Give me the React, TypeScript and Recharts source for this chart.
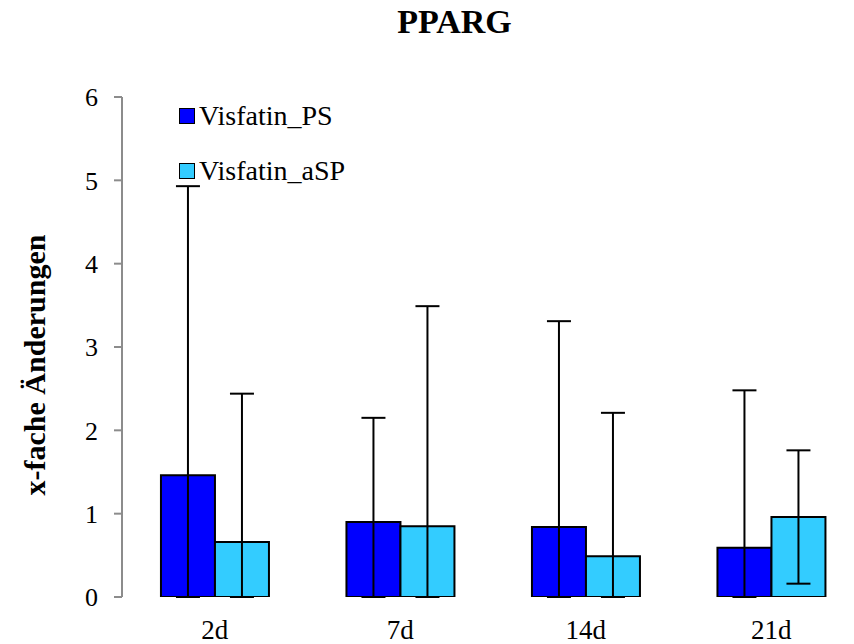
import React from 'react';
import { BarChart, Bar, XAxis, YAxis, ErrorBar } from 'recharts';

const days = ['2d', '7d', '14d', '21d'];
const psValues = [1.46, 0.9, 0.84, 0.59];
const psErrors = [3.47, 1.25, 2.47, 1.89];
const aspValues = [0.66, 0.85, 0.49, 0.96];
const aspErrors = [1.78, 2.64, 1.72, 0.8];
const yTicks = [0, 1, 2, 3, 4, 5, 6];

const PS_COLOR = '#0000FF';
const ASP_COLOR = '#33CCFF';
const FONT = '"Liberation Serif", "Times New Roman", serif';

// lower whisker stops at the axis, like the original
const data = days.map((day, i) => ({
  day,
  ps: psValues[i],
  psErr: [Math.min(psErrors[i], psValues[i]), psErrors[i]],
  asp: aspValues[i],
  aspErr: [Math.min(aspErrors[i], aspValues[i]), aspErrors[i]],
}));

const legendItems = [
  { name: 'Visfatin_PS', color: PS_COLOR },
  { name: 'Visfatin_aSP', color: ASP_COLOR },
];

const LegendBox = () => (
  <div
    style={{
      position: 'absolute',
      left: 179,
      top: 88,
      fontFamily: FONT,
      fontSize: 28,
      color: '#000',
    }}
  >
    {legendItems.map((item) => (
      <div key={item.name} style={{ display: 'flex', alignItems: 'center', height: 55 }}>
        <span
          style={{
            width: 14,
            height: 14,
            background: item.color,
            border: '1.5px solid #000',
            marginRight: 4,
          }}
        />
        <span>{item.name}</span>
      </div>
    ))}
  </div>
);

export default function App() {
  return (
    <div style={{ position: 'absolute', left: 0, top: 0, width: 854, height: 644, overflow: 'hidden', background: '#fff' }}>
      <BarChart
        width={870}
        height={644}
        data={data}
        margin={{ top: 97, right: 6, left: 50, bottom: 0 }}
        barCategoryGap="21%"
        barGap={0}
        style={{ position: 'absolute', left: 0, top: 0 }}
      >
        <XAxis
          xAxisId="edges"
          type="number"
          domain={[0, 4]}
          ticks={[0, 1, 2, 3, 4]}
          height={0}
          stroke="#8c8c8c"
          strokeWidth={2}
          tickSize={8}
          tickFormatter={() => ''}
        />
        <XAxis
          dataKey="day"
          height={47}
          axisLine={false}
          tickLine={false}
          tickSize={0}
          tickMargin={23}
          tick={{ fill: '#000', fontFamily: FONT, fontSize: 27 }}
        />
        <YAxis
          width={72}
          domain={[0, 6]}
          ticks={yTicks}
          allowDataOverflow
          stroke="#8c8c8c"
          strokeWidth={2}
          tickSize={8}
          tickMargin={16}
          tick={{ fill: '#000', fontFamily: FONT, fontSize: 26 }}
        />
        <Bar dataKey="ps" name="Visfatin_PS" fill={PS_COLOR} stroke="#000" strokeWidth={2} isAnimationActive={false}>
          <ErrorBar dataKey="psErr" width={12} stroke="#000" strokeWidth={2} direction="y" isAnimationActive={false} />
        </Bar>
        <Bar dataKey="asp" name="Visfatin_aSP" fill={ASP_COLOR} stroke="#000" strokeWidth={2} isAnimationActive={false}>
          <ErrorBar dataKey="aspErr" width={12} stroke="#000" strokeWidth={2} direction="y" isAnimationActive={false} />
        </Bar>
      </BarChart>
      <div
        style={{
          position: 'absolute',
          top: 3,
          left: 0,
          width: 909,
          textAlign: 'center',
          fontFamily: FONT,
          fontWeight: 'bold',
          fontSize: 34,
        }}
      >
        PPARG
      </div>
      <div
        style={{
          position: 'absolute',
          left: 35,
          top: 365,
          transform: 'translate(-50%, -50%) rotate(-90deg)',
          whiteSpace: 'nowrap',
          fontFamily: FONT,
          fontWeight: 'bold',
          fontSize: 30,
        }}
      >
        x-fache Änderungen
      </div>
      <LegendBox />
    </div>
  );
}
